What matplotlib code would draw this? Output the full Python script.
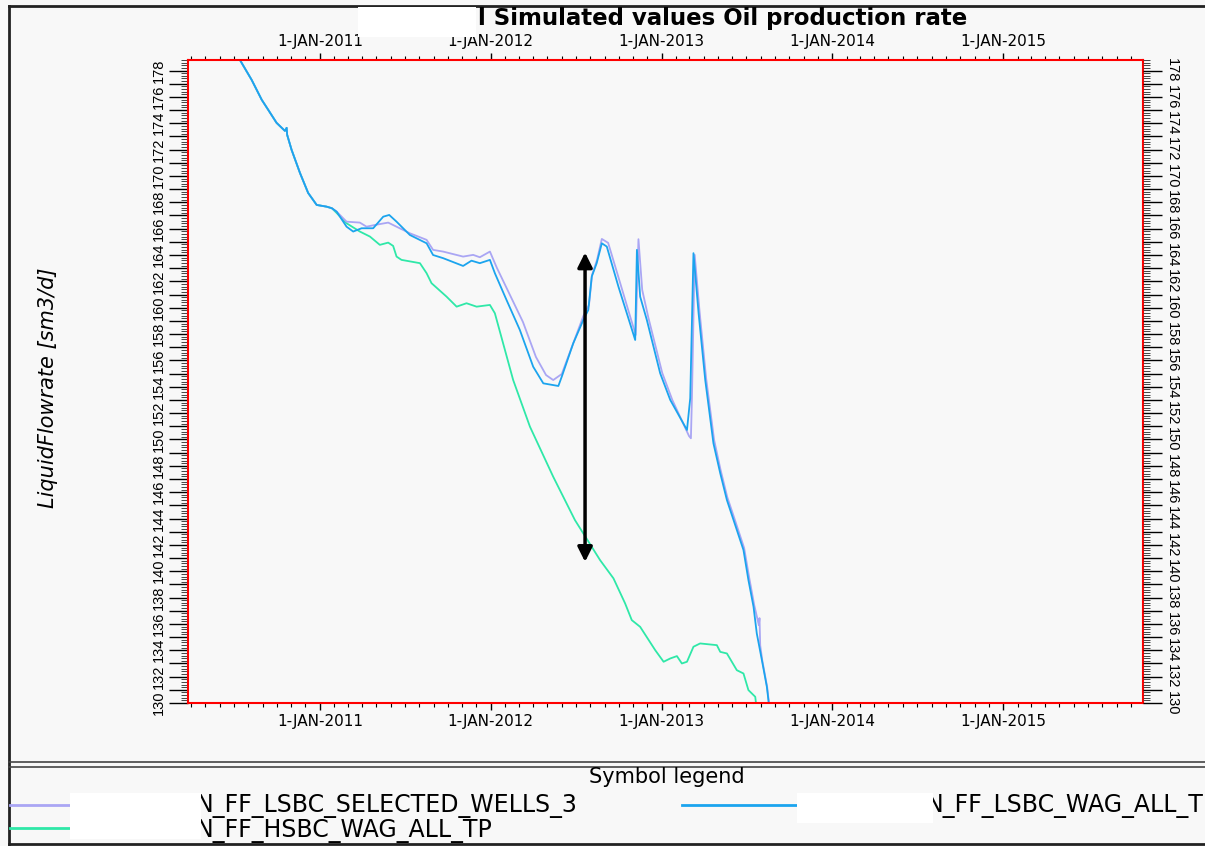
from datetime import datetime, timedelta

import matplotlib
matplotlib.use('Agg')
import matplotlib.pyplot as plt
import matplotlib.dates as mdates
from matplotlib.lines import Line2D
from matplotlib.patches import Rectangle
from matplotlib.ticker import MultipleLocator, FuncFormatter

# decimal years / sm3/d
shared_t = [2010.485, 2010.531, 2010.600, 2010.659, 2010.697, 2010.746, 2010.795,
            2010.805, 2010.808, 2010.834, 2010.883, 2010.931, 2010.981, 2011.039, 2011.070]
shared_v = [179.95, 178.81, 177.29, 175.78, 175.02, 174.03, 173.42,
            173.65, 173.12, 171.98, 170.23, 168.71, 167.80, 167.67, 167.55]

sel_t = [2011.098, 2011.156, 2011.234, 2011.273, 2011.322, 2011.400, 2011.527, 2011.625,
         2011.663, 2011.722, 2011.839, 2011.898, 2011.937, 2011.996, 2012.037, 2012.113,
         2012.189, 2012.265, 2012.324, 2012.366, 2012.416, 2012.483, 2012.542, 2012.575,
         2012.593, 2012.622, 2012.650, 2012.687, 2012.757, 2012.804, 2012.848, 2012.864,
         2012.886, 2012.921, 2013.003, 2013.062, 2013.160, 2013.171, 2013.177, 2013.193,
         2013.222, 2013.260, 2013.307, 2013.345, 2013.384, 2013.425, 2013.483, 2013.513,
         2013.542, 2013.569, 2013.573, 2013.577, 2013.589, 2013.618, 2013.633]
sel_v = [167.29, 166.53, 166.46, 166.15, 166.28, 166.46, 165.65, 165.15,
         164.39, 164.26, 163.88, 164.01, 163.83, 164.26, 163.02, 160.97,
         158.92, 156.26, 154.89, 154.51, 154.97, 157.30, 159.37, 160.21,
         162.49, 163.63, 165.22, 164.92, 161.88, 159.83, 157.93, 165.20,
         161.35, 159.30, 155.05, 153.00, 150.26, 150.09, 153.15, 164.01,
         159.67, 154.66, 149.96, 147.68, 145.63, 144.04, 141.76, 139.48,
         137.43, 135.91, 136.44, 134.38, 133.25, 131.20, 129.46]

wag_t = [2011.098, 2011.156, 2011.195, 2011.244, 2011.312, 2011.371, 2011.406, 2011.449,
         2011.527, 2011.625, 2011.663, 2011.722, 2011.839, 2011.888, 2011.937, 2011.996,
         2012.025, 2012.093, 2012.171, 2012.249, 2012.308, 2012.396, 2012.416, 2012.483,
         2012.542, 2012.571, 2012.591, 2012.620, 2012.650, 2012.679, 2012.747, 2012.796,
         2012.845, 2012.855, 2012.874, 2012.913, 2012.991, 2013.050, 2013.148, 2013.167,
         2013.186, 2013.216, 2013.255, 2013.303, 2013.343, 2013.382, 2013.421, 2013.479,
         2013.508, 2013.538, 2013.557, 2013.587, 2013.616, 2013.632]
wag_v = [167.29, 166.15, 165.78, 166.03, 166.03, 166.91, 167.04, 166.53,
         165.52, 164.89, 164.00, 163.76, 163.17, 163.57, 163.38, 163.63,
         162.62, 160.59, 158.31, 155.52, 154.26, 154.06, 154.77, 157.30,
         159.07, 159.83, 162.36, 163.38, 164.89, 164.64, 161.60, 159.58,
         157.55, 164.39, 160.84, 159.07, 155.02, 153.00, 150.72, 153.13,
         164.14, 159.58, 154.51, 149.71, 147.43, 145.40, 143.88, 141.61,
         139.33, 137.30, 135.28, 133.25, 131.23, 129.46]

hsbc_t = [2011.098, 2011.156, 2011.234, 2011.293, 2011.351, 2011.400, 2011.429, 2011.449,
          2011.478, 2011.586, 2011.625, 2011.654, 2011.742, 2011.801, 2011.859, 2011.918,
          2011.996, 2012.025, 2012.132, 2012.230, 2012.366, 2012.493, 2012.640, 2012.718,
          2012.786, 2012.825, 2012.874, 2012.962, 2013.011, 2013.050, 2013.089, 2013.118,
          2013.148, 2013.186, 2013.225, 2013.323, 2013.343, 2013.382, 2013.440, 2013.479,
          2013.508, 2013.548, 2013.557]
hsbc_v = [167.19, 166.41, 165.78, 165.40, 164.77, 164.94, 164.69, 163.88,
          163.63, 163.38, 162.62, 161.86, 160.84, 160.08, 160.34, 160.08,
          160.21, 159.58, 154.51, 150.97, 147.17, 143.88, 140.84, 139.46,
          137.56, 136.29, 135.78, 134.01, 133.13, 133.38, 133.56, 133.00,
          133.13, 134.27, 134.52, 134.39, 133.88, 133.76, 132.49, 132.24,
          130.98, 130.47, 129.46]

names = ['N_FF_LSBC_SELECTED_WELLS_3', 'N_FF_LSBC_WAG_ALL_TP', 'N_FF_HSBC_WAG_ALL_TP']
colors = ['#aaa6f4', '#1ba4ee', '#2fe8a8']

arrow_t = 2012.552
arrow_v = [164.4, 140.5]

x_range = [2010.227, 2015.82]
y_range = [130.0, 178.8]

W, H = 1205, 846


def yr(t):
    y = int(t)
    start = datetime(y, 1, 1)
    days = (datetime(y + 1, 1, 1) - start).days
    return start + timedelta(days=(t - y) * days)


def fx(x):
    return x / W


def fy(y):
    return 1 - y / H


def date_label(x, pos):
    d = mdates.num2date(x)
    return '%d-%s-%d' % (d.day, d.strftime('%b').upper(), d.year)


fig = plt.figure(figsize=(W / 100, H / 100), dpi=100, facecolor='#f8f8f8')
ax = fig.add_axes([fx(188), fy(703), (1143 - 188) / W, (703 - 60) / H])
ax.set_facecolor('#f8f8f8')

series = [(shared_t + sel_t, shared_v + sel_v),
          (shared_t + wag_t, shared_v + wag_v),
          (shared_t + hsbc_t, shared_v + hsbc_v)]
# green underneath, blue on top
for idx in [2, 0, 1]:
    t, v = series[idx]
    ax.plot([yr(a) for a in t], v, color=colors[idx], lw=1.3)

ax.annotate('', xy=(yr(arrow_t), arrow_v[0]), xytext=(yr(arrow_t), arrow_v[1]),
            arrowprops=dict(arrowstyle='<|-|>', color='black', lw=2.5, mutation_scale=22))

ax.set_xlim(yr(x_range[0]), yr(x_range[1]))
ax.set_ylim(*y_range)

for s in ax.spines.values():
    s.set_color('red')
    s.set_linewidth(1.5)

ax.xaxis.set_major_locator(mdates.YearLocator())
ax.xaxis.set_minor_locator(mdates.MonthLocator())
ax.xaxis.set_major_formatter(FuncFormatter(date_label))
ax.tick_params(axis='x', which='both', direction='out', top=True, labeltop=True,
               colors='black', labelsize=11, pad=3, labelfontfamily='DejaVu Sans')
ax.tick_params(axis='x', which='major', length=5, width=1)
ax.tick_params(axis='x', which='minor', length=3, width=0.8)

yfmt = FuncFormatter(lambda v, p: '%d' % round(v) if round(v) % 2 == 0 else '')
ax2 = ax.twinx()
ax2.set_ylim(*y_range)
for s in ax2.spines.values():
    s.set_visible(False)
for a, rot in [(ax, 90), (ax2, -90)]:
    a.yaxis.set_major_locator(MultipleLocator(1))
    a.yaxis.set_minor_locator(MultipleLocator(0.2))
    a.yaxis.set_major_formatter(yfmt)
    a.tick_params(axis='y', which='major', length=14, width=1, labelsize=10.5,
                  labelrotation=rot, pad=2, colors='black',
                  labelfontfamily='Liberation Sans')
    a.tick_params(axis='y', which='minor', length=5, width=0.7, colors='#444444')
    for lab in a.get_yticklabels():
        lab.set_va('center')

fig.text(fx(48), fy(388), 'LiquidFlowrate [sm3/d]', rotation=90, fontsize=15,
         style='italic', family='DejaVu Sans', ha='center', va='center')

fig.text(fx(478), fy(19), 'l Simulated values Oil production rate', fontsize=16.5,
         weight='bold', family='DejaVu Sans', ha='left', va='center')

# frame lines
frame = dict(color='#222222', lw=2, transform=fig.transFigure)
fig.add_artist(Line2D([fx(9), fx(9)], [fy(6), fy(844)], **frame))
fig.add_artist(Line2D([fx(9), 1], [fy(6), fy(6)], **frame))
fig.add_artist(Line2D([fx(9), 1], [fy(762), fy(762)], color='#444444', lw=1.2,
                      transform=fig.transFigure))
fig.add_artist(Line2D([fx(9), 1], [fy(767), fy(767)], color='#444444', lw=1.2,
                      transform=fig.transFigure))
fig.add_artist(Line2D([fx(9), 1], [fy(844), fy(844)], **frame))

fig.text(fx(667), fy(777), 'Symbol legend', fontsize=15, family='DejaVu Sans',
         ha='center', va='center')

legend_pos = [(10, 70, 805, 196, 806), (682, 797, 805, 926, 806), (10, 70, 828, 196, 831)]
for (x0, x1, y, tx, ty), c, n in zip(legend_pos, colors, names):
    fig.add_artist(Line2D([fx(x0), fx(x1)], [fy(y), fy(y)], color=c, lw=2,
                          transform=fig.transFigure))
    fig.text(fx(tx), fy(ty), n, fontsize=17, family='DejaVu Sans',
             ha='left', va='center')

# redaction boxes as in the reference
for x0, y0, x1, y1 in [(358, 7, 476, 37), (70, 793, 201, 839), (797, 793, 933, 823)]:
    fig.add_artist(Rectangle((fx(x0), fy(y1)), (x1 - x0) / W, (y1 - y0) / H,
                             facecolor='white', edgecolor='none',
                             transform=fig.transFigure, zorder=10))

fig.savefig('out.png', dpi=100, facecolor=fig.get_facecolor())
